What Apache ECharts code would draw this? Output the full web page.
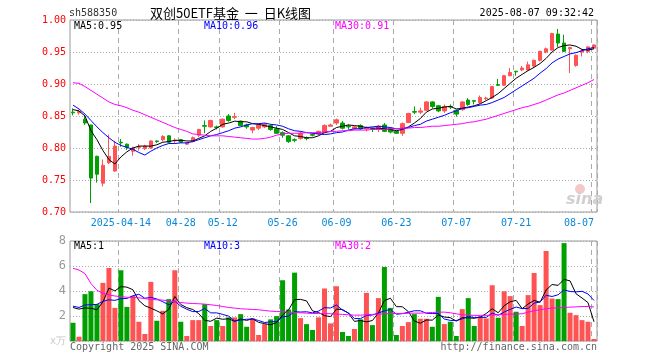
<!DOCTYPE html>
<html>
<head>
<meta charset="utf-8">
<title>双创50ETF基金 日K线图</title>
<script src="https://cdn.jsdelivr.net/npm/echarts@6/dist/echarts.min.js"></script>
<style>
  html, body { margin: 0; padding: 0; background: #fff; }
  #chart { width: 660px; height: 360px; }
</style>
</head>
<body>
<div id="chart"></div>
<script>
// 交易日
var dates = [
  '2025-04-01','2025-04-02','2025-04-03','2025-04-07','2025-04-08','2025-04-09','2025-04-10','2025-04-11','2025-04-14','2025-04-15',
  '2025-04-16','2025-04-17','2025-04-18','2025-04-21','2025-04-22','2025-04-23','2025-04-24','2025-04-25','2025-04-28','2025-04-29',
  '2025-04-30','2025-05-06','2025-05-07','2025-05-08','2025-05-09','2025-05-12','2025-05-13','2025-05-14','2025-05-15','2025-05-16',
  '2025-05-19','2025-05-20','2025-05-21','2025-05-22','2025-05-23','2025-05-26','2025-05-27','2025-05-28','2025-05-29','2025-05-30',
  '2025-06-03','2025-06-04','2025-06-05','2025-06-06','2025-06-09','2025-06-10','2025-06-11','2025-06-12','2025-06-13','2025-06-16',
  '2025-06-17','2025-06-18','2025-06-19','2025-06-20','2025-06-23','2025-06-24','2025-06-25','2025-06-26','2025-06-27','2025-06-30',
  '2025-07-01','2025-07-02','2025-07-03','2025-07-04','2025-07-07','2025-07-08','2025-07-09','2025-07-10','2025-07-11','2025-07-14',
  '2025-07-15','2025-07-16','2025-07-17','2025-07-18','2025-07-21','2025-07-22','2025-07-23','2025-07-24','2025-07-25','2025-07-28',
  '2025-07-29','2025-07-30','2025-07-31','2025-08-01','2025-08-04','2025-08-05','2025-08-06','2025-08-07'
];

// 开盘 收盘 最低 最高
var opens = [
  0.856,0.855,0.845,0.836,0.787,0.745,0.777,0.764,0.809,0.806,
  0.795,0.801,0.799,0.800,0.811,0.813,0.819,0.811,0.813,0.806,
  0.810,0.820,0.835,0.833,0.833,0.833,0.850,0.848,0.842,0.836,
  0.828,0.831,0.833,0.835,0.830,0.824,0.819,0.813,0.815,0.816,
  0.821,0.822,0.824,0.834,0.839,0.839,0.834,0.830,0.835,0.830,
  0.830,0.830,0.836,0.831,0.826,0.823,0.840,0.857,0.856,0.859,
  0.872,0.866,0.858,0.865,0.859,0.860,0.875,0.874,0.871,0.877,
  0.878,0.899,0.898,0.913,0.920,0.922,0.922,0.928,0.937,0.950,
  0.953,0.978,0.964,0.955,0.929,0.950,0.951,0.956
];
var closes = [
  0.855,0.857,0.839,0.753,0.759,0.773,0.787,0.803,0.808,0.801,
  0.800,0.802,0.803,0.811,0.810,0.818,0.809,0.812,0.809,0.808,
  0.816,0.829,0.834,0.843,0.832,0.845,0.843,0.849,0.835,0.833,
  0.832,0.836,0.837,0.829,0.823,0.820,0.810,0.812,0.823,0.815,
  0.820,0.826,0.835,0.836,0.844,0.831,0.833,0.833,0.830,0.831,
  0.829,0.834,0.826,0.825,0.823,0.838,0.854,0.856,0.858,0.872,
  0.865,0.858,0.865,0.864,0.853,0.872,0.868,0.873,0.879,0.878,
  0.896,0.898,0.913,0.918,0.919,0.925,0.930,0.937,0.951,0.955,
  0.979,0.964,0.951,0.957,0.945,0.952,0.958,0.961
];
var lows = [
  0.851,0.852,0.836,0.714,0.746,0.740,0.775,0.763,0.802,0.797,
  0.788,0.796,0.797,0.799,0.808,0.810,0.808,0.808,0.808,0.805,
  0.809,0.817,0.823,0.832,0.829,0.832,0.841,0.845,0.834,0.830,
  0.823,0.828,0.831,0.827,0.822,0.816,0.808,0.809,0.813,0.812,
  0.818,0.820,0.823,0.833,0.836,0.829,0.829,0.828,0.828,0.826,
  0.825,0.825,0.825,0.823,0.822,0.819,0.839,0.853,0.853,0.858,
  0.862,0.856,0.855,0.861,0.849,0.858,0.866,0.868,0.869,0.875,
  0.877,0.897,0.897,0.912,0.913,0.920,0.921,0.925,0.935,0.948,
  0.952,0.958,0.950,0.917,0.927,0.943,0.948,0.955
];
var highs = [
  0.862,0.860,0.851,0.836,0.788,0.782,0.821,0.811,0.814,0.807,
  0.802,0.806,0.805,0.812,0.812,0.820,0.820,0.815,0.814,0.809,
  0.818,0.830,0.843,0.844,0.835,0.846,0.853,0.855,0.843,0.838,
  0.833,0.838,0.839,0.837,0.834,0.826,0.820,0.815,0.826,0.818,
  0.823,0.827,0.837,0.838,0.846,0.842,0.837,0.834,0.837,0.834,
  0.832,0.836,0.839,0.832,0.827,0.840,0.855,0.865,0.863,0.873,
  0.873,0.867,0.868,0.868,0.860,0.873,0.878,0.874,0.882,0.880,
  0.897,0.908,0.914,0.925,0.920,0.928,0.935,0.938,0.952,0.957,
  0.980,0.986,0.977,0.958,0.946,0.954,0.959,0.962
];

// 均线
var ma5 = [
  0.860,0.858,0.850,0.827,0.813,0.796,0.782,0.775,0.786,0.794,
  0.800,0.803,0.803,0.803,0.805,0.809,0.810,0.812,0.812,0.811,
  0.811,0.815,0.819,0.826,0.831,0.837,0.839,0.842,0.841,0.841,
  0.838,0.837,0.835,0.833,0.831,0.829,0.824,0.819,0.818,0.816,
  0.816,0.819,0.824,0.826,0.832,0.834,0.836,0.835,0.834,0.832,
  0.831,0.831,0.830,0.829,0.827,0.829,0.833,0.839,0.846,0.856,
  0.861,0.862,0.864,0.865,0.861,0.862,0.864,0.866,0.869,0.874,
  0.879,0.885,0.893,0.901,0.909,0.915,0.921,0.926,0.932,0.940,
  0.950,0.957,0.960,0.961,0.959,0.954,0.953,0.955
];
var ma10 = [
  0.867,0.861,0.853,0.843,0.833,0.824,0.816,0.809,0.804,0.801,
  0.798,0.793,0.789,0.795,0.800,0.804,0.807,0.807,0.808,0.808,
  0.810,0.813,0.816,0.819,0.821,0.824,0.827,0.831,0.833,0.836,
  0.838,0.838,0.839,0.837,0.836,0.834,0.830,0.827,0.826,0.824,
  0.823,0.822,0.821,0.822,0.824,0.825,0.828,0.830,0.830,0.832,
  0.833,0.834,0.833,0.832,0.830,0.830,0.832,0.835,0.837,0.842,
  0.845,0.848,0.851,0.855,0.858,0.862,0.863,0.865,0.867,0.868,
  0.871,0.875,0.879,0.885,0.891,0.897,0.903,0.909,0.917,0.924,
  0.933,0.939,0.943,0.947,0.949,0.952,0.955,0.957
];
var ma30 = [
  0.902,0.901,0.896,0.890,0.884,0.878,0.872,0.868,0.866,0.863,
  0.859,0.856,0.852,0.848,0.844,0.840,0.836,0.832,0.829,0.826,
  0.822,0.821,0.820,0.819,0.819,0.819,0.818,0.817,0.816,0.815,
  0.814,0.814,0.815,0.817,0.820,0.822,0.823,0.823,0.823,0.824,
  0.824,0.824,0.825,0.826,0.826,0.827,0.827,0.828,0.828,0.828,
  0.829,0.829,0.829,0.830,0.830,0.831,0.831,0.832,0.832,0.833,
  0.834,0.834,0.835,0.836,0.837,0.838,0.840,0.841,0.843,0.845,
  0.848,0.851,0.854,0.857,0.860,0.863,0.865,0.868,0.871,0.875,
  0.879,0.883,0.886,0.890,0.894,0.898,0.902,0.907
];

// 成交量（万手）
var vols = [
  1.46,0.34,3.75,3.98,2.95,4.65,5.84,2.65,5.66,2.73,
  3.61,1.54,0.56,4.73,1.62,2.42,3.35,5.66,1.54,0.40,
  1.67,1.67,2.95,1.20,1.67,1.20,1.89,1.89,2.15,1.14,
  1.81,0.48,1.35,1.73,1.99,4.86,2.52,5.47,1.83,1.35,
  0.88,1.89,4.20,1.41,4.38,0.72,0.40,0.96,1.73,3.85,
  1.27,3.43,5.92,2.65,0.48,1.20,1.51,2.15,1.78,1.78,
  1.14,3.53,1.35,1.54,0.40,2.55,3.43,1.20,1.99,1.81,
  4.46,1.86,3.98,3.59,2.34,1.20,3.67,5.44,2.87,7.20,
  3.40,3.35,7.83,2.26,2.07,1.67,1.54,0.16
];
var volMa5 = [
  2.68,2.55,2.65,2.62,2.50,3.13,4.23,4.01,4.35,4.31,
  4.10,3.24,2.82,2.63,2.41,2.17,2.54,3.56,2.92,2.67,
  2.52,2.19,1.65,1.58,1.83,1.74,1.78,1.57,1.76,1.65,
  1.78,1.49,1.39,1.30,1.47,2.08,2.49,3.31,3.33,3.21,
  2.41,2.28,2.03,1.95,2.55,2.52,2.22,1.57,1.64,1.53,
  1.64,2.25,3.24,3.42,2.75,2.74,2.35,1.60,1.42,1.68,
  1.67,2.08,1.92,1.87,1.59,1.87,1.85,1.82,1.91,2.20,
  2.58,2.26,2.82,3.14,3.25,2.59,2.96,3.25,3.10,4.08,
  4.52,4.45,4.93,4.81,3.78,3.44,3.07,1.54
];
var volMa10 = [
  2.79,2.68,2.88,2.90,2.93,3.17,3.30,3.25,3.39,3.40,
  3.62,3.74,3.42,3.49,3.36,3.14,2.89,3.19,2.78,2.54,
  2.35,2.36,2.60,2.25,2.25,2.13,1.99,1.61,1.67,1.74,
  1.76,1.64,1.48,1.53,1.56,1.93,1.99,2.35,2.32,2.34,
  2.25,2.39,2.67,2.64,2.88,2.47,2.25,1.80,1.79,2.04,
  2.08,2.24,2.41,2.53,2.14,2.19,2.30,2.42,2.42,2.22,
  2.20,2.21,1.76,1.65,1.64,1.77,1.97,1.87,1.89,1.89,
  2.23,2.06,2.32,2.53,2.72,2.59,2.61,3.03,3.12,3.66,
  3.56,3.70,4.09,3.96,3.93,3.98,3.76,3.24
];
var volMa30 = [
  5.82,5.68,5.39,4.60,4.06,3.82,3.69,3.60,3.55,3.50,
  3.47,3.46,3.39,3.32,3.30,3.27,3.22,3.13,3.08,3.03,
  3.00,2.98,2.95,2.90,2.84,2.76,2.68,2.63,2.58,2.55,
  2.52,2.50,2.44,2.39,2.36,2.34,2.31,2.28,2.26,2.23,
  2.20,2.20,2.20,2.18,2.15,2.13,2.10,2.07,2.07,2.10,
  2.13,2.15,2.18,2.20,2.20,2.20,2.22,2.23,2.23,2.26,
  2.28,2.31,2.31,2.26,2.18,2.10,2.07,2.05,2.05,2.05,
  2.07,2.10,2.13,2.15,2.15,2.18,2.31,2.42,2.50,2.58,
  2.63,2.66,2.68,2.71,2.73,2.76,2.76,2.73
];

// 显示日期标签的位置
var labelIdx = [8, 18, 25, 35, 44, 54, 64, 74, 87];

var UP = '#ff5252';
var DOWN = '#00a000';
var MONO = '"DejaVu Sans Mono", "Liberation Mono", monospace';

function showIdx(i) {
    return labelIdx.indexOf(i) >= 0;
}

var kData = dates.map(function (d, i) {
    return [opens[i], closes[i], lows[i], highs[i]];
});

var volData = vols.map(function (v, i) {
    return { value: v, itemStyle: { color: closes[i] >= opens[i] ? UP : DOWN } };
});

var myChart = echarts.init(document.getElementById('chart'), null, { renderer: 'canvas' });

//竖线
var vSplit = {
    show: true,
    interval: function (i) { return showIdx(i); },
    lineStyle: { color: '#aaa', type: [5, 4], width: 1 }
};

function txt(x, y, text, fill, font, align) {
    return {
        type: 'text', x: x, y: y, silent: true, z: 100,
        style: {
            text: text, fill: fill, font: font,
            align: align || 'left', textAlign: align || 'left',
            verticalAlign: 'middle', textVerticalAlign: 'middle'
        }
    };
}

var option = {
    animation: false,
    backgroundColor: '#fff',
    grid: [
        { left: 70, top: 20, width: 527, height: 192, show: true, borderColor: '#999', borderWidth: 1 },
        { left: 70, top: 241, width: 527, height: 100, show: true, borderColor: '#999', borderWidth: 1 }
    ],
    xAxis: [
        {
            type: 'category', gridIndex: 0, data: dates, boundaryGap: true,
            axisLine: { show: false }, axisTick: { show: false },
            axisLabel: {
                interval: function (i) { return showIdx(i); },
                formatter: function (v, i) { return i === labelIdx[0] ? v : v.slice(5); },
                color: '#0a88d8', fontFamily: MONO, fontSize: 10, margin: 6,
                alignMaxLabel: 'right'
            },
            splitLine: vSplit
        },
        {
            type: 'category', gridIndex: 1, data: dates, boundaryGap: true,
            axisLine: { show: false }, axisTick: { show: false },
            axisLabel: { show: false },
            splitLine: vSplit
        }
    ],
    yAxis: [
        {
            type: 'value', gridIndex: 0, min: 0.70, max: 1.00, interval: 0.05, scale: true,
            axisLine: { show: false }, axisTick: { show: false },
            axisLabel: {
                formatter: function (v) { return v.toFixed(2); },
                color: '#f00', fontFamily: MONO, fontSize: 10, margin: 4
            },
            splitLine: { lineStyle: { color: '#aaa', type: [1, 2], width: 1 } }
        },
        {
            type: 'value', gridIndex: 1, min: 0, max: 8, interval: 2,
            axisLine: { show: false }, axisTick: { show: false },
            axisLabel: {
                formatter: function (v) { return v === 0 ? '{u|x万}' : String(v); },
                color: '#999', fontFamily: MONO, fontSize: 12, margin: 4,
                rich: { u: { color: '#c8c8c8', fontFamily: MONO, fontSize: 10 } }
            },
            splitLine: { lineStyle: { color: '#aaa', type: [1, 2], width: 1 } }
        }
    ],
    series: [
        {
            name: 'K', type: 'candlestick', xAxisIndex: 0, yAxisIndex: 0, data: kData,
            barWidth: 4, silent: true,
            itemStyle: { color: UP, color0: DOWN, borderColor: UP, borderColor0: DOWN, borderWidth: 1 }
        },
        {
            name: 'MA5', type: 'line', xAxisIndex: 0, yAxisIndex: 0, data: ma5,
            symbol: 'none', silent: true, lineStyle: { color: '#000', width: 1 }
        },
        {
            name: 'MA10', type: 'line', xAxisIndex: 0, yAxisIndex: 0, data: ma10,
            symbol: 'none', silent: true, lineStyle: { color: '#0000ff', width: 1 }
        },
        {
            name: 'MA30', type: 'line', xAxisIndex: 0, yAxisIndex: 0, data: ma30,
            symbol: 'none', silent: true, lineStyle: { color: '#ff00ff', width: 1 }
        },
        {
            name: 'VOL', type: 'bar', xAxisIndex: 1, yAxisIndex: 1, data: volData,
            barWidth: 5, silent: true
        },
        {
            name: 'VMA5', type: 'line', xAxisIndex: 1, yAxisIndex: 1, data: volMa5,
            symbol: 'none', silent: true, lineStyle: { color: '#000', width: 1 }
        },
        {
            name: 'VMA10', type: 'line', xAxisIndex: 1, yAxisIndex: 1, data: volMa10,
            symbol: 'none', silent: true, lineStyle: { color: '#0000ff', width: 1 }
        },
        {
            name: 'VMA30', type: 'line', xAxisIndex: 1, yAxisIndex: 1, data: volMa30,
            symbol: 'none', silent: true, lineStyle: { color: '#ff00ff', width: 1 }
        }
    ],
    graphic: [
        txt(69, 13, 'sh588350', '#333', '10px ' + MONO),
        txt(150, 13, '双创50ETF基金  一  日K线图', '#000', '13px "Noto Sans CJK SC"'),
        txt(594, 13, '2025-08-07 09:32:42', '#000', '10px ' + MONO, 'right'),
        txt(74, 26, 'MA5:0.95', '#000', '10px ' + MONO),
        txt(204, 26, 'MA10:0.96', '#0000ff', '10px ' + MONO),
        txt(335, 26, 'MA30:0.91', '#ff00ff', '10px ' + MONO),
        txt(74, 246, 'MA5:1', '#000', '10px ' + MONO),
        txt(204, 246, 'MA10:3', '#0000ff', '10px ' + MONO),
        txt(335, 246, 'MA30:2', '#ff00ff', '10px ' + MONO),
        txt(70, 347, 'Copyright 2025 SINA.COM', '#666', '10px ' + MONO),
        txt(597, 347, 'http://finance.sina.com.cn', '#666', '10px ' + MONO, 'right'),
        // sina 水印
        { type: 'circle', silent: true, z: 1, shape: { cx: 580, cy: 189, r: 5 }, style: { fill: '#f5c8c8' } },
        txt(566, 200, 'sina', '#d0d0d0', 'italic bold 16px "DejaVu Sans"')
    ]
};

myChart.setOption(option);
</script>
</body>
</html>
